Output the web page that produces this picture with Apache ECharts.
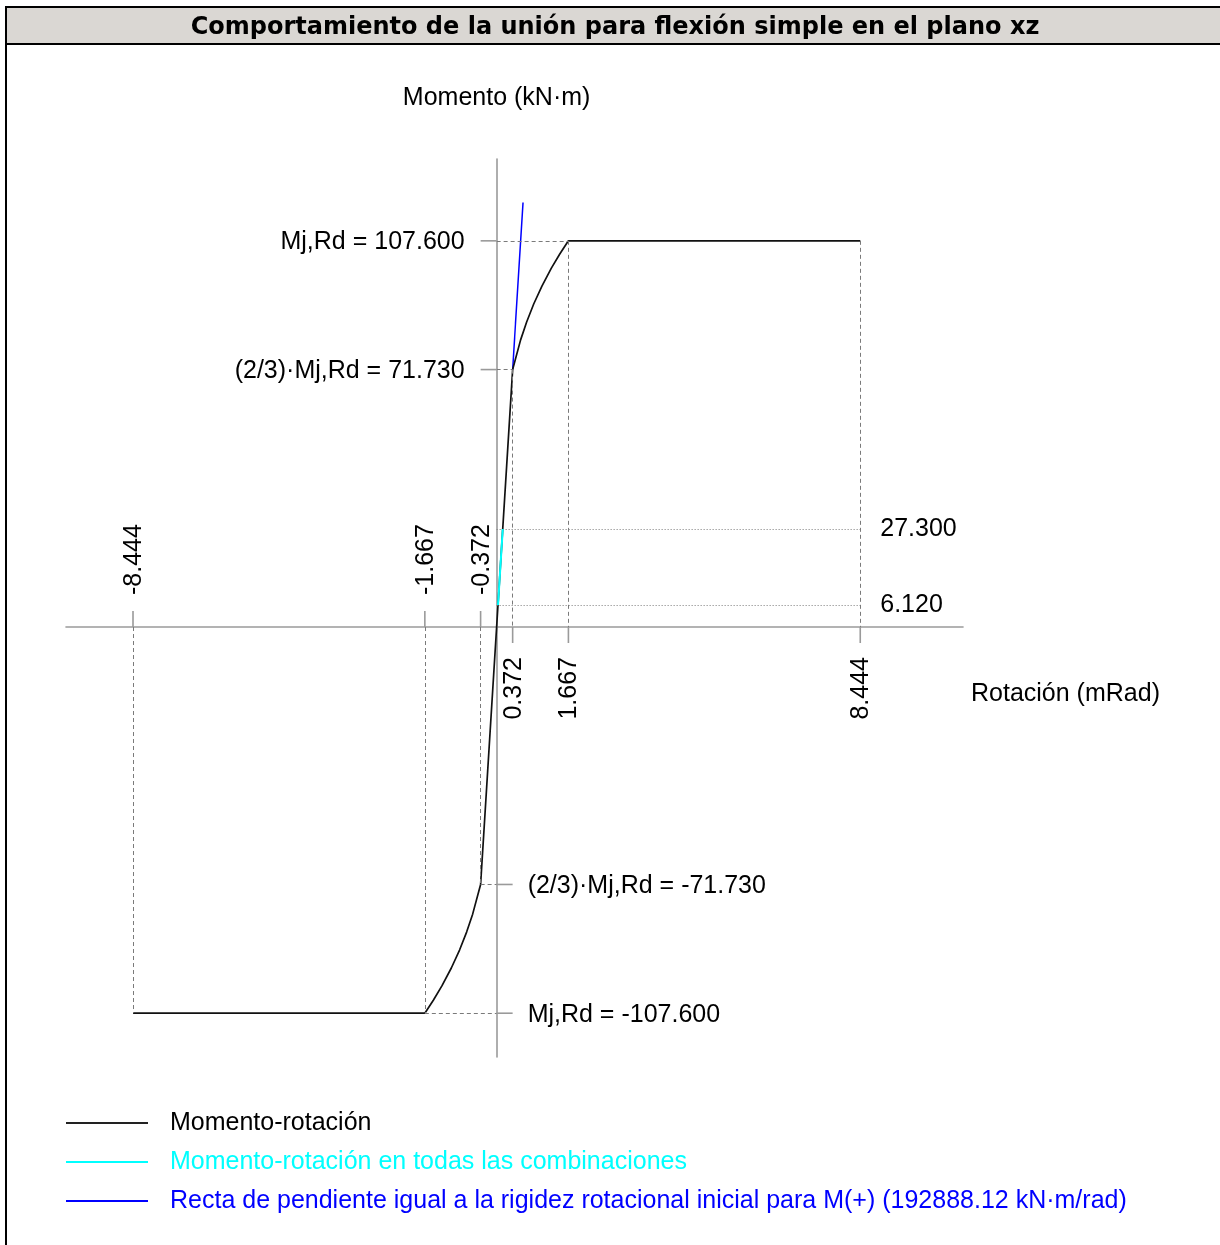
<!DOCTYPE html>
<html>
<head>
<meta charset="utf-8">
<script src="https://cdn.jsdelivr.net/npm/echarts@6/dist/echarts.min.js"></script>
<style>
  html, body { margin: 0; padding: 0; background: #fff; }
  #chart { width: 1220px; height: 1245px; }
</style>
</head>
<body>
<div id="chart"></div>
<script>
// ---------- data ----------
const titleText = 'Comportamiento de la unión para flexión simple en el plano xz';
const xAxisName = 'Rotación (mRad)';
const yAxisName = 'Momento (kN·m)';

// Momento-rotación (black)
const rotBlack = [-8.444, -1.667, -1.470, -1.271, -1.052, -0.861, -0.697, -0.557, -0.372, 0, 0.372, 0.557, 0.697, 0.861, 1.052, 1.271, 1.470, 1.667, 8.444];
const momBlack = [-107.6, -107.6, -104, -100, -95, -90, -85, -80, -71.73, 0, 71.73, 80, 85, 90, 95, 100, 104, 107.6, 107.6];

// Momento-rotación en todas las combinaciones (cyan)
const rotCyan = [0.0317, 0.1415];
const momCyan = [6.12, 27.3];

// Recta de pendiente igual a la rigidez rotacional inicial (blue)
const rotBlue = [0.372, 0.613];
const momBlue = [71.73, 118.3];

// ticks on the rotation axis
const xTicks = [-8.444, -1.667, -0.372, 0.372, 1.667, 8.444];
const xTickLabels = ['-8.444', '-1.667', '-0.372', '0.372', '1.667', '8.444'];

// ticks on the moment axis
const yTicks = [107.6, 71.73, -71.73, -107.6];
const yTickLabels = ['Mj,Rd = 107.600', '(2/3)·Mj,Rd = 71.730', '(2/3)·Mj,Rd = -71.730', 'Mj,Rd = -107.600'];

// combination levels (dotted lines) and their labels
const combLevels = [27.3, 6.12];
const combLabels = ['27.300', '6.120'];
const combEndRot = 8.444;

const legendNames = [
  'Momento-rotación',
  'Momento-rotación en todas las combinaciones',
  'Recta de pendiente igual a la rigidez rotacional inicial para M(+) (192888.12 kN·m/rad)'
];

// ---------- chart ----------
const FONT = '"Liberation Sans", Arial, sans-serif';
const AXIS_COLOR = '#9a9a9a';
const GUIDE_COLOR = '#7a7a7a';
const zip = (a, b) => a.map((v, i) => [v, b[i]]);

const Mrd = yTicks[0], M23 = yTicks[1];
const phiRd = xTicks[4], phi23 = xTicks[3], phiEnd = xTicks[5];

const dashedSegs = [
  [[-phiEnd, 0], [-phiEnd, -Mrd]],
  [[-phiRd, 0], [-phiRd, -Mrd]],
  [[-phi23, 0], [-phi23, -M23]],
  [[phi23, M23], [phi23, 0]],
  [[phiRd, Mrd], [phiRd, 0]],
  [[phiEnd, Mrd], [phiEnd, 0]],
  [[0, Mrd], [phiRd, Mrd]],
  [[0, M23], [phi23, M23]],
  [[-phi23, -M23], [0, -M23]],
  [[-phiRd, -Mrd], [0, -Mrd]]
];
const dottedSegs = combLevels.map(v => [[0, v], [combEndRot, v]]);

function segData(segs) {
  return segs.map(s => [{ coord: s[0] }, { coord: s[1] }]);
}

const chart = echarts.init(document.getElementById('chart'), null, { renderer: 'canvas' });

const option = {
  backgroundColor: '#fff',
  animation: false,
  textStyle: { fontFamily: FONT },
  graphic: [
    { type: 'rect', z: -10, shape: { x: 6, y: 7, width: 1230, height: 37 },
      style: { fill: '#dad7d3', stroke: '#000', lineWidth: 2 } },
    { type: 'line', z: -10, shape: { x1: 6, y1: 7, x2: 6, y2: 1250 },
      style: { stroke: '#000', lineWidth: 2 } },
    { type: 'text', z: 10, x: 615, y: 27.5,
      style: { text: titleText, align: 'center', verticalAlign: 'middle',
               font: 'bold 24px "DejaVu Sans", Verdana, sans-serif', fill: '#000' } }
  ],
  grid: { left: 66, top: 159, width: 897, height: 898, containLabel: false },
  xAxis: {
    type: 'value', min: -10.0, max: 10.83,
    axisLine: { show: true, onZero: true, lineStyle: { color: AXIS_COLOR, width: 1.6 } },
    axisTick: { show: false }, axisLabel: { show: false }, splitLine: { show: false },
    name: xAxisName, nameLocation: 'end', nameGap: 8,
    nameTextStyle: { fontSize: 25, fontFamily: FONT, color: '#000', align: 'left',
                     verticalAlign: 'top', padding: [55, 0, 0, 0] }
  },
  yAxis: {
    type: 'value', min: -119.8, max: 130.4,
    axisLine: { show: true, onZero: true, lineStyle: { color: AXIS_COLOR, width: 1.6 } },
    axisTick: { show: false }, axisLabel: { show: false }, splitLine: { show: false },
    name: yAxisName, nameLocation: 'end', nameGap: 48,
    nameTextStyle: { fontSize: 25, fontFamily: FONT, color: '#000' }
  },
  legend: {
    orient: 'vertical', left: 66, top: 1110.5, padding: 0,
    itemWidth: 82, itemHeight: 2, itemGap: 14, icon: 'rect',
    textStyle: { fontSize: 25, lineHeight: 25, fontFamily: FONT, padding: [0, 0, 0, 17] },
    data: [
      { name: legendNames[0], textStyle: { color: '#000' } },
      { name: legendNames[1], textStyle: { color: '#00ffff' } },
      { name: legendNames[2], textStyle: { color: '#0000ff' } }
    ]
  },
  series: [
    {
      name: 'guides', type: 'line', data: [], silent: true, z: 1,
      markLine: {
        silent: true, symbol: ['none', 'none'], animation: false,
        label: { show: false },
        lineStyle: { color: GUIDE_COLOR, width: 1, type: [4, 3] },
        data: segData(dashedSegs).concat(
          segData(dottedSegs).map(d => { d[0].lineStyle = { type: [1, 2], color: GUIDE_COLOR, width: 1 }; return d; })
        )
      }
    },
    {
      name: legendNames[2], type: 'line', data: zip(rotBlue, momBlue), z: 3,
      symbol: 'none', color: '#0000ff', lineStyle: { color: '#0000ff', width: 1.5 }
    },
    {
      name: legendNames[0], type: 'line', data: zip(rotBlack, momBlack), z: 4,
      symbol: 'none', color: '#222', lineStyle: { color: '#111', width: 1.7 }
    },
    {
      name: legendNames[1], type: 'line', data: zip(rotCyan, momCyan), z: 5,
      symbol: 'none', color: '#00ffff', lineStyle: { color: '#00ffff', width: 2 }
    },
    {
      name: 'xticks', type: 'custom', silent: true, clip: false, z: 6,
      data: xTicks.map(v => [v, 0]),
      renderItem: function (params, api) {
        const v = api.value(0);
        const p = api.coord([v, 0]);
        const neg = v < 0;
        const dir = neg ? -1 : 1;
        return { type: 'group', children: [
          { type: 'line', shape: { x1: p[0], y1: p[1], x2: p[0], y2: p[1] + dir * 16 },
            style: { stroke: AXIS_COLOR, lineWidth: 1.6 } },
          { type: 'text', x: p[0] + 1, y: p[1] + dir * (neg ? 32 : 30), rotation: Math.PI / 2,
            style: { text: xTickLabels[params.dataIndex], font: '25px ' + FONT, fill: '#000',
                     align: neg ? 'left' : 'right', verticalAlign: 'middle' } }
        ] };
      }
    },
    {
      name: 'yticks', type: 'custom', silent: true, clip: false, z: 6,
      data: yTicks.map(v => [0, v]),
      renderItem: function (params, api) {
        const v = api.value(1);
        const p = api.coord([0, v]);
        const pos = v > 0;
        const dir = pos ? -1 : 1;
        return { type: 'group', children: [
          { type: 'line', shape: { x1: p[0], y1: p[1], x2: p[0] + dir * 16, y2: p[1] },
            style: { stroke: AXIS_COLOR, lineWidth: 1.6 } },
          { type: 'text', x: p[0] + dir * (pos ? 32 : 31), y: p[1] + 1.5,
            style: { text: yTickLabels[params.dataIndex], font: '25px ' + FONT, fill: '#000',
                     align: pos ? 'right' : 'left', verticalAlign: 'middle' } }
        ] };
      }
    },
    {
      name: 'comblabels', type: 'custom', silent: true, clip: false, z: 6,
      data: combLevels.map(v => [combEndRot, v]),
      renderItem: function (params, api) {
        const p = api.coord([api.value(0), api.value(1)]);
        return { type: 'text', x: p[0] + 20, y: p[1] + 0.5,
          style: { text: combLabels[params.dataIndex], font: '25px ' + FONT, fill: '#000',
                   align: 'left', verticalAlign: 'middle' } };
      }
    }
  ]
};

chart.setOption(option);
</script>
</body>
</html>
